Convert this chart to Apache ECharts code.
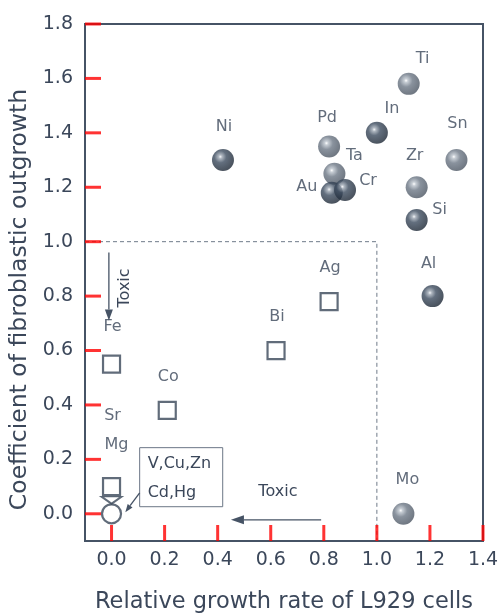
<!DOCTYPE html>
<html>
<head>
<meta charset="utf-8">
<script src="https://cdn.jsdelivr.net/npm/echarts@6/dist/echarts.min.js"></script>
<style>html,body{margin:0;padding:0;background:#fff;}#chart{width:499px;height:615px;background:#fff;}</style>
</head>
<body>
<div id="chart"></div>
<script>
// ---- data ----
const darkNames = ['Ni', 'In', 'Au', 'Cr', 'Si', 'Al'];
const darkX = [0.42, 1.00, 0.83, 0.88, 1.15, 1.21];
const darkY = [1.30, 1.40, 1.18, 1.19, 1.08, 0.80];

const lightNames = ['Ta', 'Pd', 'Ti', 'Sn', 'Zr', 'Mo'];
const lightX = [0.84, 0.82, 1.12, 1.30, 1.15, 1.10];
const lightY = [1.25, 1.35, 1.58, 1.30, 1.20, 0.00];

const squareNames = ['Fe', 'Co', 'Bi', 'Ag', 'Mg'];
const squareX = [0.00, 0.21, 0.62, 0.82, 0.00];
const squareY = [0.55, 0.38, 0.60, 0.78, 0.10];

const triangleNames = ['Sr'];
const triangleX = [0.00];
const triangleY = [0.05];

const circleNames = ['V,Cu,Zn', 'Cd,Hg'];
const circleX = [0.00];
const circleY = [0.00];

const xTicks = [0.0, 0.2, 0.4, 0.6, 0.8, 1.0, 1.2, 1.4];
const yTicks = [0.0, 0.2, 0.4, 0.6, 0.8, 1.0, 1.2, 1.4, 1.6, 1.8];

const threshold = [[-0.1, 1.0], [1.0, 1.0], [1.0, -0.1]];

// ---- styling (not data) ----
const X_MIN = -0.1, X_MAX = 1.4, Y_MIN = -0.1, Y_MAX = 1.8;
const labelOffsets = {
  Ti: [14, -25], In: [15, -24], Sn: [1, -36], Ni: [1, -33], Pd: [-2, -29],
  Ta: [20, -18], Au: [-25, -6], Cr: [23, -9], Zr: [-2, -31], Si: [23, -10],
  Al: [-4, -32], Mo: [4, -34], Ag: [1, -34], Bi: [1, -34], Fe: [1, -37],
  Co: [1, -34], Mg: [5, -42], Sr: [1, -84]
};
const FONT = 'DejaVu Sans';
const TXT = '#3b475a';
const AX = '#465365';
const TICK = '#ff0000';

function labelFor(n) {
  return { show: true, position: 'inside', formatter: '{b}', color: TXT,
    fontFamily: FONT, fontSize: 16, offset: labelOffsets[n] || [0, 0] };
}
function pts(names, xs, ys) {
  return names.slice(0, xs.length).map((n, i) => ({
    name: n, value: [xs[i], ys[i]], label: labelFor(n)
  }));
}
const darkGrad = { type: 'radial', x: 0.38, y: 0.35, r: 0.65,
  colorStops: [{ offset: 0, color: '#f2f4f7' }, { offset: 0.13, color: '#9aa4b0' },
    { offset: 0.42, color: '#3c4b5e' }, { offset: 1, color: '#1d2836' }] };
const lightGrad = { type: 'radial', x: 0.38, y: 0.35, r: 0.65,
  colorStops: [{ offset: 0, color: '#ffffff' }, { offset: 0.13, color: '#b9c1ca' },
    { offset: 0.45, color: '#6c7785' }, { offset: 1, color: '#4d5764' }] };
const labelBase = { show: true, position: 'inside', formatter: '{b}', color: TXT,
  fontFamily: FONT, fontSize: 16 };

const chart = echarts.init(document.getElementById('chart'));
const option = {
  animation: false,
  grid: { left: 85, right: 16, top: 24, bottom: 74, show: true, outerBoundsMode: 'none', containLabel: false,
    borderColor: AX, borderWidth: 2, backgroundColor: 'transparent' },
  xAxis: {
    type: 'value', min: X_MIN, max: X_MAX,
    name: 'Relative growth rate of L929 cells', nameLocation: 'middle', nameGap: 50,
    nameTextStyle: { color: TXT, fontFamily: FONT, fontSize: 22.5 },
    axisLine: { show: true, onZero: false, lineStyle: { color: AX, width: 2 } },
    axisTick: { show: false },
    axisLabel: { color: TXT, fontFamily: FONT, fontSize: 19, margin: 10, customValues: xTicks,
      formatter: v => v.toFixed(1) },
    splitLine: { show: false }
  },
  yAxis: {
    type: 'value', min: Y_MIN, max: Y_MAX,
    name: 'Coefficient of fibroblastic outgrowth', nameLocation: 'middle', nameGap: 48, nameRotate: 90,
    nameTextStyle: { color: TXT, fontFamily: FONT, fontSize: 23.5, padding: [0, 34, 0, 0] },
    axisLine: { show: true, onZero: false, lineStyle: { color: AX, width: 2 } },
    axisTick: { show: false },
    axisLabel: { color: TXT, fontFamily: FONT, fontSize: 19, margin: 12, customValues: yTicks,
      formatter: v => v.toFixed(1) },
    splitLine: { show: false }
  },
  series: [
    { type: 'scatter', data: xTicks.map(v => [v, Y_MIN]), symbol: 'rect',
      symbolSize: [3, 16], symbolOffset: [0, -8], clip: false, z: 20,
      itemStyle: { color: TICK } },
    { type: 'scatter', data: yTicks.map(v => [X_MIN, v]), symbol: 'rect',
      symbolSize: [16, 3], symbolOffset: [8, 0], clip: false, z: 20,
      itemStyle: { color: TICK } },
    { type: 'line', data: threshold, symbol: 'none', silent: true, z: 1,
      lineStyle: { color: '#6f7a89', width: 1, type: [4, 3] } },
    { type: 'scatter', name: 'light', data: pts(lightNames, lightX, lightY), symbol: 'circle', symbolSize: 22, z: 3,
      itemStyle: { color: lightGrad }, label: labelBase },
    { type: 'scatter', name: 'dark', data: pts(darkNames, darkX, darkY), symbol: 'circle', symbolSize: 22, z: 4,
      itemStyle: { color: darkGrad }, label: labelBase },
    { type: 'scatter', name: 'toxic', data: pts(squareNames, squareX, squareY), symbol: 'rect', symbolSize: 17, z: 5,
      itemStyle: { color: '#ffffff', borderColor: '#3a4759', borderWidth: 2.2 }, label: labelBase },
    { type: 'scatter', name: 'sr', data: pts(triangleNames, triangleX, triangleY),
      symbol: 'path://M0,0 L22,0 L11,8 Z', symbolSize: [20, 7], z: 5,
      itemStyle: { color: '#ffffff', borderColor: '#3a4759', borderWidth: 2 }, label: labelBase },
    { type: 'scatter', name: 'circ', data: circleX.map((x, i) => [x, circleY[i]]), symbol: 'circle', symbolSize: 19, z: 5,
      itemStyle: { color: 'rgba(255,255,255,0)', borderColor: '#3a4759', borderWidth: 2.2 } }
  ]
};
chart.setOption(option);

function px(x, y) { return chart.convertToPixel({ gridIndex: 0 }, [x, y]); }
function arrowLine(a, b, head) {
  const dx = b[0] - a[0], dy = b[1] - a[1], L = Math.hypot(dx, dy);
  const ux = dx / L, uy = dy / L, hl = head[0], hw = head[1];
  const base = [b[0] - ux * hl, b[1] - uy * hl];
  return [
    { type: 'line', shape: { x1: a[0], y1: a[1], x2: base[0], y2: base[1] },
      style: { stroke: AX, lineWidth: 1.3 }, z: 10 },
    { type: 'polygon', shape: { points: [b, [base[0] - uy * hw, base[1] + ux * hw], [base[0] + uy * hw, base[1] - ux * hw]] },
      style: { fill: AX }, z: 10 }
  ];
}
const g = [];
const vA = px(-0.01, 0.96), vB = px(-0.01, 0.71);
const hA = px(0.79, -0.022), hB = px(0.45, -0.022);
const bTL = px(0.106, 0.243), bBR = px(0.419, 0.026);
const lA = px(0.106, 0.077), lB = px(0.052, 0.006);
const vT = px(0.05, 0.83), hT = px(0.627, 0.08);
g.push(...arrowLine(vA, vB, [11, 4]));
g.push(...arrowLine(hA, hB, [13, 4.5]));
g.push(...arrowLine(lA, lB, [8, 3]));
g.push({ type: 'rect', shape: { x: bTL[0], y: bTL[1], width: bBR[0] - bTL[0], height: bBR[1] - bTL[1] },
  style: { fill: '#ffffff', stroke: '#6b7686', lineWidth: 1 }, z: 9 });
g.push({ type: 'text', x: bTL[0] + 8, y: bTL[1] + 16, z: 11,
  style: { text: circleNames[0], fill: TXT, font: '16px "DejaVu Sans"', verticalAlign: 'middle', align: 'left' } });
g.push({ type: 'text', x: bTL[0] + 8, y: bTL[1] + 45, z: 11,
  style: { text: circleNames[1], fill: TXT, font: '16px "DejaVu Sans"', verticalAlign: 'middle', align: 'left' } });
g.push({ type: 'text', x: vT[0], y: vT[1], rotation: Math.PI / 2, z: 11,
  style: { text: 'Toxic', fill: TXT, font: '16px "DejaVu Sans"', verticalAlign: 'middle', align: 'center' } });
g.push({ type: 'text', x: hT[0], y: hT[1], z: 11,
  style: { text: 'Toxic', fill: TXT, font: '16px "DejaVu Sans"', verticalAlign: 'middle', align: 'center' } });
chart.setOption({ graphic: g });
</script>
</body>
</html>
